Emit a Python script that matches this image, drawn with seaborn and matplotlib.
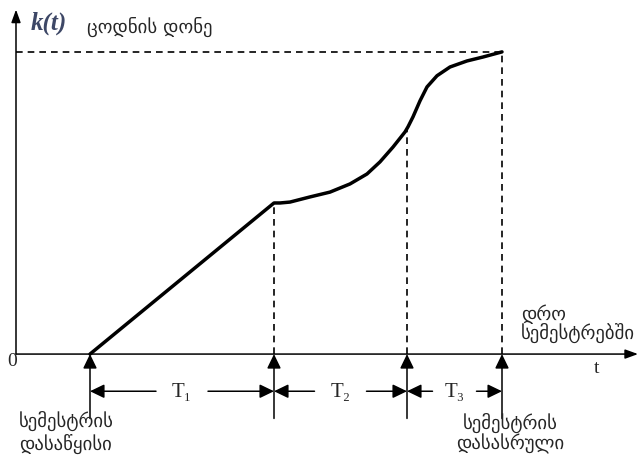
import numpy as np
import pandas as pd
import matplotlib
matplotlib.use("Agg")
import matplotlib.pyplot as plt
import seaborn as sns

# ---- data (time in arbitrary units, knowledge level 0..100) ----
phase_labels = ["T₁", "T₂", "T₃"]
boundaries_t = [7.4, 25.8, 39.1, 48.6]      # start, end T1, end T2, end T3
boundaries_k = [0, 50, 75, 100]

curve_t = [7.4, 25.8,
           26.4, 27.4, 29.4, 31.4, 33.4, 35.1, 36.4, 37.7, 38.9, 39.2,
           39.7, 40.4, 41.1, 42.1, 43.4, 45.1, 46.7, 48.6]
curve_k = [0, 50,
           50.0, 50.3, 52.0, 53.6, 56.3, 59.6, 63.6, 68.5, 73.5, 75.2,
           78.5, 83.8, 88.4, 92.1, 95.0, 97.0, 98.3, 100]

y_label_math = "k(t)"
y_label_text = "ცოდნის დონე"
x_label_text = ["დრო", "სემესტრებში"]
start_label = ["სემესტრის", "დასაწყისი"]
end_label = ["სემესტრის", "დასასრული"]

sns.set_theme(style="white")
plt.rcParams["font.family"] = ["DejaVu Sans"]
plt.rcParams["lines.solid_joinstyle"] = "round"

fig = plt.figure(figsize=(6.39, 4.56), dpi=100)
ax = fig.add_axes([0, 0, 1, 1])
ax.set_xlim(-1.6, 62.3)
ax.set_ylim(-33.4, 117.5)
ax.axis("off")

serif = ["Liberation Serif", "DejaVu Serif"]
geo_size = 13.5

# axes with arrows
ax_arrow = dict(arrowstyle="-|>,head_length=0.55,head_width=0.2", color="black",
                lw=1.1, mutation_scale=14, shrinkA=0, shrinkB=0)
ax.annotate("", xy=(0, 114), xytext=(0, 0), arrowprops=ax_arrow)
ax.annotate("", xy=(62.2, 0), xytext=(0, 0), arrowprops=ax_arrow)

# dashed guides
dash = dict(color="black", lw=1.2, linestyle=(0, (4, 3)))
ax.plot([0, boundaries_t[-1]], [boundaries_k[-1]] * 2, **dash)
for t, k in zip(boundaries_t[1:], boundaries_k[1:]):
    ax.plot([t, t], [0, k], **dash)

# knowledge curve
df = pd.DataFrame({"t": curve_t, "k": curve_k})
sns.lineplot(data=df, x="t", y="k", ax=ax, color="black", lw=2.5,
             sort=False, estimator=None)

# tick arrows under the axis
tick_arrow = dict(arrowstyle="-|>,head_length=0.62,head_width=0.3", color="black",
                  lw=1.1, mutation_scale=14, shrinkA=0, shrinkB=0)
for t in boundaries_t:
    ax.annotate("", xy=(t, 0), xytext=(t, -21.3), arrowprops=tick_arrow)

# dimension arrows with phase labels
k_dim = -12.3
for lab, a, b in zip(phase_labels, boundaries_t[:-1], boundaries_t[1:]):
    mid = (a + b) / 2
    gap = 2.2 if lab == "T₃" else 2.6
    ax.annotate("", xy=(a, k_dim), xytext=(mid - gap, k_dim), arrowprops=tick_arrow)
    ax.annotate("", xy=(b, k_dim), xytext=(mid + gap, k_dim), arrowprops=tick_arrow)
    ax.text(mid, k_dim, lab, ha="center", va="center", fontsize=15, family=serif)

# texts
ax.text(-0.4, -2.0, "0", ha="center", va="center", fontsize=14, family=serif)
ax.text(58.1, -4.3, "t", ha="center", va="center", fontsize=14, family=serif)
ax.text(1.5, 109.8, y_label_math, ha="left", va="center", fontsize=18,
        family=serif, style="italic", weight="bold", color="#3d4766")
ax.text(7.1, 108.6, y_label_text, ha="left", va="center", fontsize=geo_size)
ax.text(50.5, 13.6, x_label_text[0], ha="left", va="center", fontsize=geo_size)
ax.text(50.5, 7.3, x_label_text[1], ha="left", va="center", fontsize=geo_size)
for line, k in zip(start_label, [-21.8, -29.4]):
    ax.text(5.0, k, line, ha="center", va="center", fontsize=geo_size)
for line, k in zip(end_label, [-22.3, -29.4]):
    ax.text(49.4, k, line, ha="center", va="center", fontsize=geo_size)

fig.savefig("out.png", dpi=100)
